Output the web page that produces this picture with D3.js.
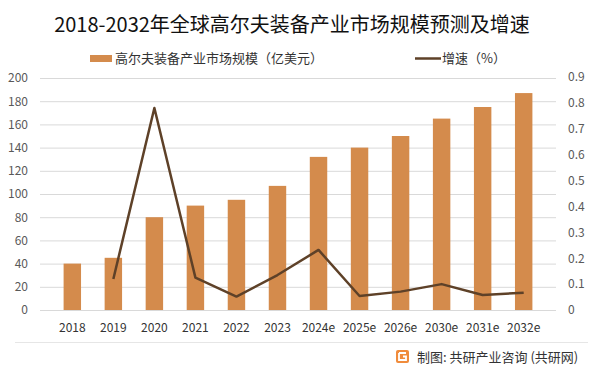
<!DOCTYPE html>
<html>
<head>
<meta charset="utf-8">
<script src="https://cdn.jsdelivr.net/npm/d3@7"></script>
<style>
  body { margin: 0; background: #fff; }
  svg { display: block; font-family: "Noto Sans CJK SC", "Noto Sans", sans-serif; }
</style>
</head>
<body>
<div id="chart"></div>
<script>
const years = ["2018", "2019", "2020", "2021", "2022", "2023", "2024e", "2025e", "2026e", "2030e", "2031e", "2032e"];
const marketSize = [40, 45, 80, 90, 95, 107, 132, 140, 150, 165, 175, 187];
const growth = [null, 0.12, 0.78, 0.125, 0.052, 0.135, 0.232, 0.054, 0.071, 0.10, 0.058, 0.067];
const leftTicks = [0, 20, 40, 60, 80, 100, 120, 140, 160, 180, 200];
const rightTicks = [0, 0.1, 0.2, 0.3, 0.4, 0.5, 0.6, 0.7, 0.8, 0.9];

const width = 601, height = 375;
const margin = { left: 40, top: 78, right: 45, bottom: 65 };

const barColor = "#d48b4c", lineColor = "#5e4128", gridColor = "#d9d9d9", textColor = "#595959";

const svg = d3.select("#chart").append("svg")
    .attr("width", width)
    .attr("height", height);

const x = d3.scaleBand()
    .domain(years)
    .range([margin.left, width - margin.right])
    .padding(0.575);

const yLeft = d3.scaleLinear()
    .domain([0, 200])
    .range([height - margin.bottom, margin.top]);

const yRight = d3.scaleLinear()
    .domain([0, 0.9])
    .range([height - margin.bottom, margin.top - 1]);

// gridlines
svg.append("g")
    .selectAll("line")
    .data(leftTicks)
  .enter().append("line")
    .attr("x1", margin.left)
    .attr("x2", width - margin.right)
    .attr("y1", d => yLeft(d) + 0.5)
    .attr("y2", d => yLeft(d) + 0.5)
    .attr("stroke", gridColor)
    .attr("stroke-width", 1);

// left axis
const leftAxis = svg.append("g")
    .attr("transform", "translate(" + (margin.left - 12) + ",0)")
    .call(d3.axisLeft(yLeft).tickValues(leftTicks).tickSize(0).tickPadding(0));
leftAxis.attr("font-family", null).attr("font-size", 12);
leftAxis.select(".domain").remove();
leftAxis.selectAll("text").attr("fill", textColor);

// right axis
const rightAxis = svg.append("g")
    .attr("transform", "translate(" + (width - margin.right + 12) + ",0)")
    .call(d3.axisRight(yRight).tickValues(rightTicks).tickSize(0).tickPadding(0)
        .tickFormat(d => d === 0 ? "0" : d3.format(".1f")(d)));
rightAxis.attr("font-family", null).attr("font-size", 12);
rightAxis.select(".domain").remove();
rightAxis.selectAll("text").attr("fill", textColor);

// bottom axis
const bottomAxis = svg.append("g")
    .attr("transform", "translate(0," + (height - margin.bottom) + ")")
    .call(d3.axisBottom(x).tickSize(0).tickPadding(13));
bottomAxis.attr("font-family", null).attr("font-size", 12);
bottomAxis.select(".domain").remove();
bottomAxis.selectAll("text").attr("fill", "#333");

// bars
svg.append("g")
    .selectAll("rect")
    .data(marketSize)
  .enter().append("rect")
    .attr("x", (d, i) => x(years[i]))
    .attr("y", d => yLeft(d))
    .attr("width", x.bandwidth())
    .attr("height", d => yLeft(0) - yLeft(d))
    .attr("fill", barColor);

// growth line
const line = d3.line()
    .defined(d => d != null)
    .x((d, i) => x(years[i]) + x.bandwidth() / 2)
    .y(d => yRight(d));

svg.append("path")
    .datum(growth)
    .attr("d", line)
    .attr("fill", "none")
    .attr("stroke", lineColor)
    .attr("stroke-width", 2.5)
    .attr("stroke-linejoin", "round");

// title
svg.append("text")
    .attr("x", 292)
    .attr("y", 32)
    .attr("text-anchor", "middle")
    .attr("font-size", 20)
    .attr("fill", "#111")
    .text("2018-2032年全球高尔夫装备产业市场规模预测及增速");

// legend
svg.append("rect")
    .attr("x", 90).attr("y", 55)
    .attr("width", 22).attr("height", 7)
    .attr("fill", barColor);
svg.append("text")
    .attr("x", 115).attr("y", 63)
    .attr("font-size", 13).attr("fill", "#333")
    .text("高尔夫装备产业市场规模（亿美元）");
svg.append("line")
    .attr("x1", 415).attr("x2", 441)
    .attr("y1", 58.5).attr("y2", 58.5)
    .attr("stroke", lineColor).attr("stroke-width", 2.5);
svg.append("text")
    .attr("x", 442).attr("y", 63)
    .attr("font-size", 13).attr("fill", "#333")
    .text("增速（%）");

// footer
svg.append("line")
    .attr("x1", 15).attr("x2", 588)
    .attr("y1", 342.5).attr("y2", 342.5)
    .attr("stroke", "#e6e6e6");

const logo = svg.append("g").attr("transform", "translate(396,350)");
logo.append("rect")
    .attr("width", 13).attr("height", 13).attr("rx", 2)
    .attr("fill", "#f08c3c");
logo.append("path")
    .attr("d", "M3,3 H10 M3,3 V10 H10 V6.5 H7")
    .attr("fill", "none").attr("stroke", "#fff").attr("stroke-width", 1.8);

svg.append("text")
    .attr("x", 417).attr("y", 362)
    .attr("font-size", 13).attr("fill", "#333")
    .text("制图: 共研产业咨询 (共研网)");
</script>
</body>
</html>
